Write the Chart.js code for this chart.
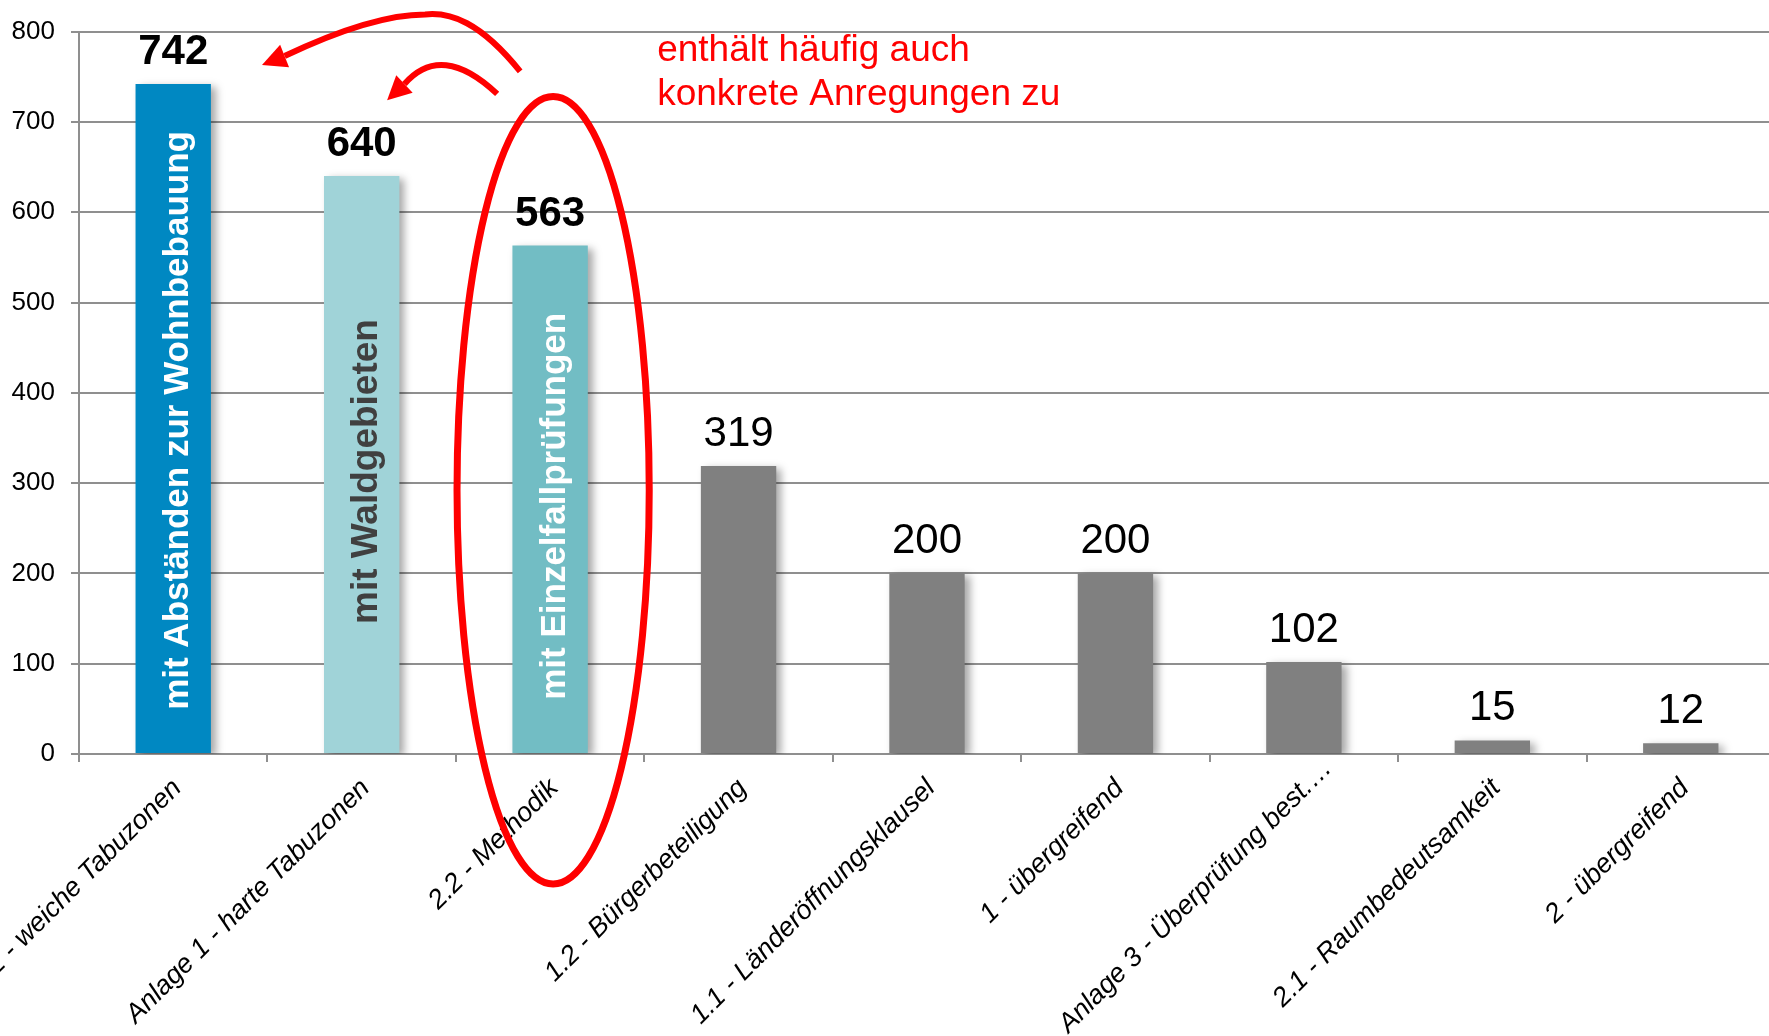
<!DOCTYPE html>
<html>
<head>
<meta charset="utf-8">
<script src="https://cdn.jsdelivr.net/npm/chart.js@4.4.1/dist/chart.umd.min.js"></script>
<style>
  html, body { margin: 0; padding: 0; background: #fff; overflow: hidden; }
  #wrap { width: 1776px; height: 1036px; }
</style>
</head>
<body>
<div id="wrap"><canvas id="chart" width="1776" height="1036"></canvas></div>
<script>
// data
const categories = [
  "Anlage 2 - weiche Tabuzonen",
  "Anlage 1 - harte Tabuzonen",
  "2.2 - Methodik",
  "1.2 - Bürgerbeteiligung",
  "1.1 - Länderöffnungsklausel",
  "1 - übergreifend",
  "Anlage 3 - Überprüfung best.…",
  "2.1 - Raumbedeutsamkeit",
  "2 - übergreifend",
];
const values = [742, 640, 563, 319, 200, 200, 102, 15, 12];
const barColors = ["#0088C2", "#A0D3D8", "#72BDC4", "#808080", "#808080", "#808080", "#808080", "#808080", "#808080"];
const boldValue = [true, true, true, false, false, false, false, false, false];
const barTexts = ["mit Abständen zur Wohnbebauung", "mit Waldgebieten", "mit Einzelfallprüfungen"];
const barTextColors = ["#ffffff", "#404040", "#ffffff"];
const yMin = 0, yMax = 800, yStep = 100;
const noteLines = ["enthält häufig auch", "konkrete Anregungen zu"];

// annotation geometry in [category index, value] units
const arrow1 = { start: [1.841, 756], c1: [1.628, 811], c2: [1.469, 822], peak: [1.337, 819], q: [1.055, 819], end: [0.591, 773], tip: [0.471, 763] };
const arrow2 = { start: [1.719, 731], q: [1.424, 789], end: [1.227, 742], tip: [1.135, 724] };
const ring = { center: [2.016, 292], rx: 0.51, ry: 436 };
const notePos = [2.568, 767];

const FONT = "'Liberation Sans', Arial, sans-serif";
const GRID = "#8f8f8f";

const decor = {
  id: "decor",
  beforeDatasetsDraw(chart) {
    const ctx = chart.ctx;
    ctx.save();
    ctx.shadowColor = "rgba(0,0,0,0.35)";
    ctx.shadowBlur = 8;
    ctx.shadowOffsetX = 5;
    ctx.shadowOffsetY = 3;
  },
  afterDatasetsDraw(chart) {
    const ctx = chart.ctx;
    ctx.restore();
    const meta = chart.getDatasetMeta(0);

    // value labels
    meta.data.forEach((bar, i) => {
      ctx.save();
      ctx.fillStyle = "#000";
      ctx.font = (boldValue[i] ? "bold " : "") + "42px " + FONT;
      ctx.textAlign = "center";
      ctx.textBaseline = "alphabetic";
      ctx.fillText(String(values[i]), bar.x, bar.y - 20);
      ctx.restore();
    });

    // vertical text inside bars (a little below the middle, like the original)
    const sizes = [35, 37, 35];
    const drop = [2, 7, 7];
    barTexts.forEach((t, i) => {
      const bar = meta.data[i];
      ctx.save();
      ctx.translate(bar.x, (bar.y + bar.base) / 2);
      ctx.rotate(-Math.PI / 2);
      ctx.fillStyle = barTextColors[i];
      ctx.font = "bold " + sizes[i] + "px " + FONT;
      ctx.textAlign = "center";
      ctx.textBaseline = "alphabetic";
      ctx.fillText(t, -drop[i], 15);
      ctx.restore();
    });
  },
  afterDraw(chart) {
    const ctx = chart.ctx;
    const xs = chart.scales.x, ys = chart.scales.y;
    const step = xs.getPixelForValue(1) - xs.getPixelForValue(0);
    const P = (p) => [xs.getPixelForValue(0) + p[0] * step, ys.getPixelForValue(p[1])];

    // rotated category labels
    categories.forEach((c, i) => {
      ctx.save();
      ctx.translate(xs.getPixelForValue(i) + 4, xs.top + 30);
      ctx.rotate(-Math.PI / 4);
      ctx.fillStyle = "#000";
      ctx.font = "italic 27px " + FONT;
      ctx.textAlign = "right";
      ctx.textBaseline = "middle";
      // the truncated label sits further out in the original
      ctx.fillText(c, c.endsWith("…") ? 28 : 0, 0);
      ctx.restore();
    });

    // red annotations
    ctx.save();
    ctx.strokeStyle = "#FF0000";
    ctx.fillStyle = "#FF0000";
    ctx.lineWidth = 6;
    ctx.lineCap = "butt";

    const head = (end, tip) => {
      const [ex, ey] = P(end), [tx, ty] = P(tip);
      const dx = tx - ex, dy = ty - ey, len = Math.hypot(dx, dy);
      const px = -dy / len * 12, py = dx / len * 12;
      ctx.beginPath();
      ctx.moveTo(tx, ty);
      ctx.lineTo(ex + px, ey + py);
      ctx.lineTo(ex - px, ey - py);
      ctx.closePath();
      ctx.fill();
    };

    let a = arrow1;
    ctx.beginPath();
    ctx.moveTo(...P(a.start));
    ctx.bezierCurveTo(...P(a.c1), ...P(a.c2), ...P(a.peak));
    ctx.quadraticCurveTo(...P(a.q), ...P(a.end));
    ctx.stroke();
    head(a.end, a.tip);

    a = arrow2;
    ctx.beginPath();
    ctx.moveTo(...P(a.start));
    ctx.quadraticCurveTo(...P(a.q), ...P(a.end));
    ctx.stroke();
    head(a.end, a.tip);

    const [cx, cy] = P(ring.center);
    const ry = Math.abs(ys.getPixelForValue(0) - ys.getPixelForValue(ring.ry));
    ctx.lineWidth = 7;
    ctx.beginPath();
    ctx.ellipse(cx, cy, ring.rx * step, ry, 0, 0, Math.PI * 2);
    ctx.stroke();

    const [nx, ny] = P(notePos);
    ctx.font = "37px " + FONT;
    ctx.textAlign = "left";
    ctx.textBaseline = "alphabetic";
    noteLines.forEach((l, i) => ctx.fillText(l, nx, ny + i * 44));
    ctx.restore();
  }
};

const ctx = document.getElementById("chart").getContext("2d");
new Chart(ctx, {
  type: "bar",
  data: {
    labels: categories,
    datasets: [{
      data: values,
      backgroundColor: barColors,
      borderWidth: 0,
      barPercentage: 0.4,
      categoryPercentage: 1,
    }],
  },
  options: {
    responsive: false,
    animation: false,
    layout: { padding: { top: 30, right: 1, left: 0, bottom: 0 } },
    plugins: { legend: { display: false }, tooltip: { enabled: false } },
    scales: {
      x: {
        offset: true,
        grid: { offset: true, drawOnChartArea: false, drawTicks: true, tickLength: 8, color: GRID, lineWidth: 2 },
        border: { color: GRID, width: 2 },
        ticks: { display: false },
        afterFit: (s) => { s.height = 282; },
      },
      y: {
        min: yMin,
        max: yMax,
        ticks: { stepSize: yStep, color: "#000", padding: 16, font: { family: FONT, size: 26 } },
        grid: { color: GRID, lineWidth: 2, tickLength: 8 },
        border: { color: GRID, width: 2 },
        afterFit: (s) => { s.width = 79; },
      },
    },
  },
  plugins: [decor],
});
</script>
</body>
</html>
